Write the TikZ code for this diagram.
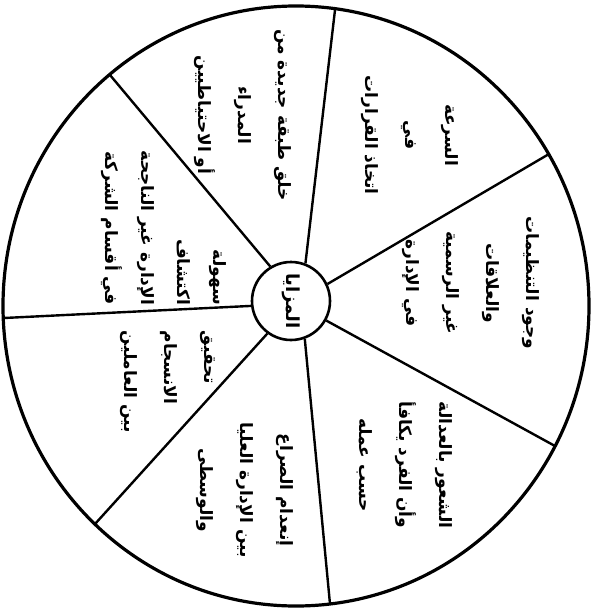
\documentclass[tikz,border=0pt]{standalone}
\usepackage{fontspec}
\usepackage{tikz}
\usetikzlibrary{positioning}
\TeXXeTstate=1
\newfontfamily\arabicfont[Script=Arabic]{DejaVu Sans}
\newcommand{\artx}[1]{\beginR #1\endR}
\tikzset{
  wheel/.style={line width=3.2pt,black},
  spoke/.style={line width=2.4pt,black},
  hub/.style={circle,draw,line width=2.6pt,minimum size=78pt,inner sep=0pt,
    font=\arabicfont\bfseries\fontsize{18}{20}\selectfont},
  seg/.style={rotate=-90,align=center,inner sep=0pt,
    font=\arabicfont\bfseries\fontsize{17}{40}\selectfont}
}
\begin{document}
\begin{tikzpicture}[x=1pt,y=-1pt]
\useasboundingbox (0,0) rectangle (593,611);
\draw[wheel] (296,306) ellipse [x radius=293,y radius=300];
\node[hub] (ctr) at (291,301) {\rotatebox{-90}{\artx{المزايا}}};
% rim points of the spokes
\coordinate (o1) at (335,10);
\coordinate (o2) at (549,154);
\coordinate (o3) at (555,446);
\coordinate (o4) at (330,604);
\coordinate (o5) at (95,524);
\coordinate (o6) at (4,318);
\coordinate (o7) at (110,75);
\foreach \a/\p in {69/o1,25/o2,-29/o3,-70/o4,234/o5,187/o6,121/o7}
  \draw[spoke] (ctr.\a) -- (\p);
% texts of the segments
\node[seg] (speed) at (410,135) {\artx{السرعة}\\\artx{في}\\\artx{اتخاذ القرارات}};
\node[seg] (informal) at (471,283) {\artx{وجود التنظيمات}\\\artx{والعلاقات}\\\artx{غير الرسمية}\\\artx{في الإدارة}};
\node[seg] (justice) at (405,465) {\artx{الشعور بالعدالة}\\\artx{وأن الفرد يكافأ}\\\artx{حسب عمله}};
\node[seg] (noconf) at (245,490) {\artx{إنعدام الصراع}\\\artx{بين الإدارة العليا}\\\artx{والوسطى}};
\node[seg,align=left] (harmony) at (168,382) {\artx{تحقيق}\\\artx{الانسجام}\\\artx{بين العاملين}};
\node[seg,align=right,font=\arabicfont\bfseries\fontsize{17}{36}\selectfont] (detect) at (164,228) {\artx{سهولة}\\\artx{اكتشاف}\\\artx{الإدارة غير الناجحة}\\\artx{في أقسام الشركة}};
\node[seg] (newmgr) at (243,115) {\artx{خلق طبقة جديدة من}\\\artx{المدراء}\\\artx{أو الاحتياطيين}};
\end{tikzpicture}
\end{document}
